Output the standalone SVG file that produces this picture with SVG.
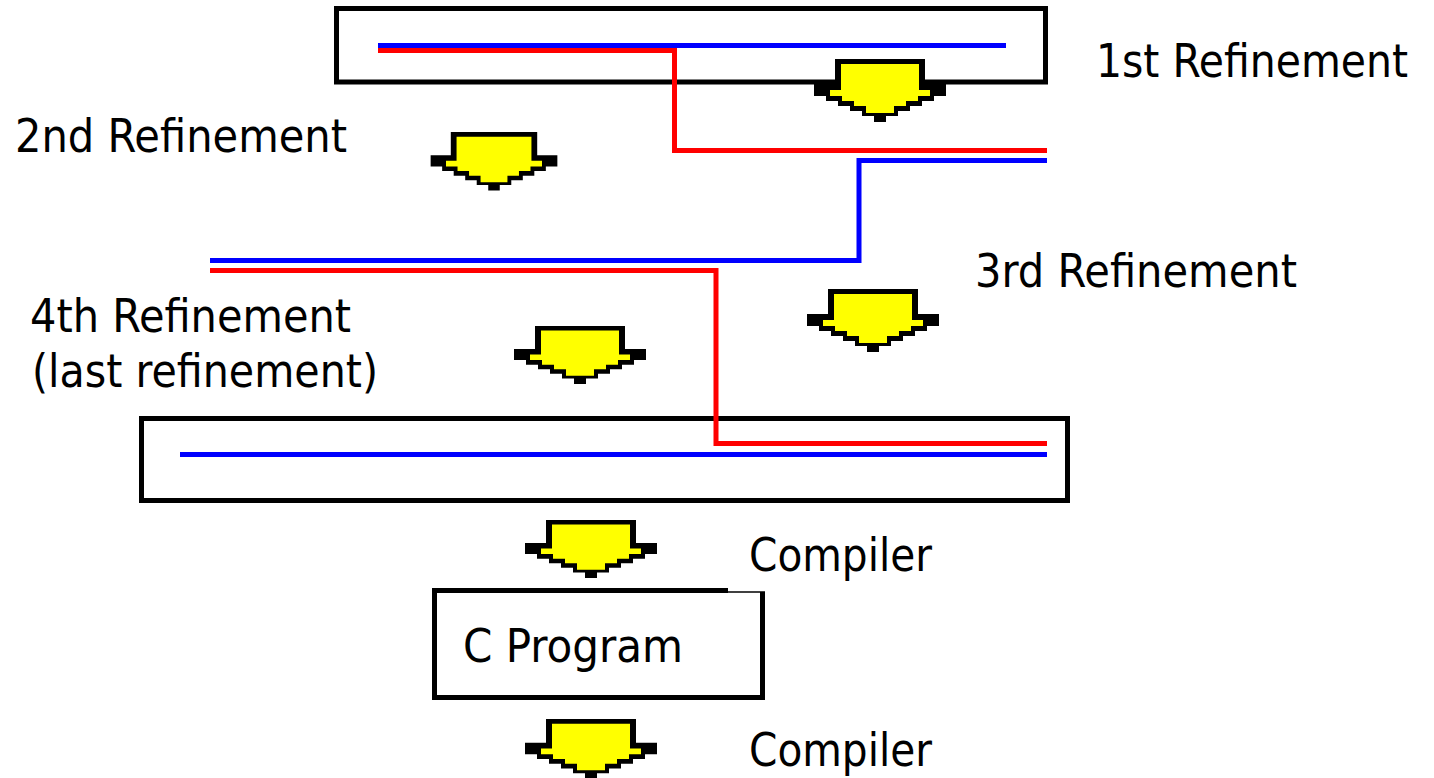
<svg xmlns="http://www.w3.org/2000/svg" width="1434" height="778" viewBox="0 0 1434 778">
<defs>
<style>
.t{font-family:"DejaVu Sans Condensed","DejaVu Sans","Liberation Sans",sans-serif;font-size:46px;fill:#000}
.box{fill:none;stroke:#000;stroke-width:5}
.r{fill:none;stroke:#f00;stroke-width:5}
.b{fill:none;stroke:#00f;stroke-width:5}
</style>
<g id="arrowShape">
<polygon fill="#000" points="-45,0 45,0 45,25 66,25 66,37 54,37 54,42 42,42 42,47 30,47 30,52 18,52 18,57 6,57 6,63 -6,63 -6,57 -18,57 -18,52 -30,52 -30,47 -42,47 -42,42 -54,42 -54,37 -66,37 -66,25 -45,25"/>
<polygon fill="#ff0" points="-39,5 39,5 39,31 50,31 50,37 38,37 38,42 26,42 26,47 14,47 14,54 -14,54 -14,47 -26,47 -26,42 -38,42 -38,37 -50,37 -50,31 -39,31"/>
</g>
</defs>
<rect width="1434" height="778" fill="#fff"/>
<g id="box1"><rect class="box" x="336.5" y="8.5" width="709" height="73.5"/></g>
<g id="box4"><rect class="box" x="141.5" y="418.5" width="926" height="82"/></g>
<g id="cprogram">
<path class="box" d="M728,590.5 H434.5 V697.5 H762.5 V592"/>
<line x1="728" y1="592" x2="765" y2="592" stroke="#000" stroke-width="1.5"/>
<text class="t" x="463" y="662" textLength="220" lengthAdjust="spacingAndGlyphs">C Program</text>
</g>
<g id="connectors">
<polyline class="b" points="378,45.5 1006,45.5"/>
<polyline class="r" points="378,50.5 674.5,50.5 674.5,150.5 1047,150.5"/>
<polyline class="b" points="1047,160.5 859,160.5 859,260.5 210,260.5"/>
<polyline class="r" points="210,270.5 716,270.5 716,443.5 1047,443.5"/>
<polyline class="b" points="180,454.5 1047,454.5"/>
</g>
<g id="arrows">
<use href="#arrowShape" transform="translate(880,59)"/>
<use href="#arrowShape" transform="translate(494,132) scale(0.96,0.93)"/>
<use href="#arrowShape" transform="translate(873,289)"/>
<use href="#arrowShape" transform="translate(580,326) scale(1,0.92)"/>
<use href="#arrowShape" transform="translate(591,520) scale(1,0.92)"/>
<use href="#arrowShape" transform="translate(591,719) scale(1,0.95)"/>
</g>
<g id="labels">
<text class="t" x="1096" y="77" textLength="312" lengthAdjust="spacingAndGlyphs">1st Refinement</text>
<text class="t" x="15" y="152" textLength="332" lengthAdjust="spacingAndGlyphs">2nd Refinement</text>
<text class="t" x="975" y="287" textLength="322" lengthAdjust="spacingAndGlyphs">3rd Refinement</text>
<text class="t" x="30" y="332" textLength="321" lengthAdjust="spacingAndGlyphs">4th Refinement</text>
<text class="t" x="32" y="387" textLength="346" lengthAdjust="spacingAndGlyphs">(last refinement)</text>
<text class="t" x="749" y="571" textLength="183" lengthAdjust="spacingAndGlyphs">Compiler</text>
<text class="t" x="749" y="766" textLength="183" lengthAdjust="spacingAndGlyphs">Compiler</text>
</g>
</svg>
